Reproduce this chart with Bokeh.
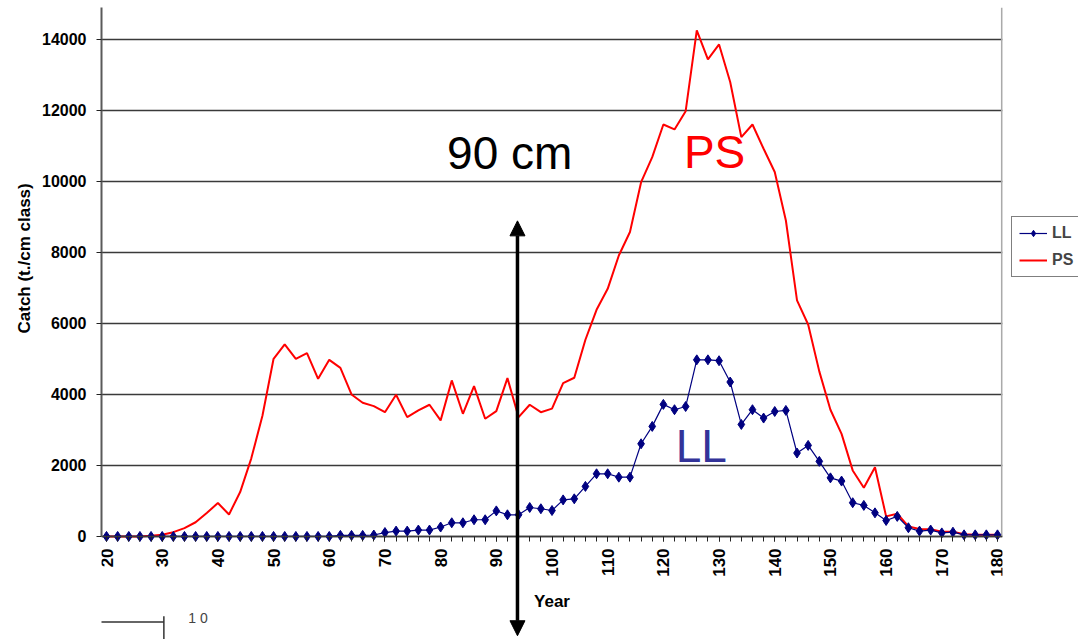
import math
from bokeh.plotting import figure
from bokeh.models import (Range1d, FixedTicker, Legend, LegendItem, Arrow,
                          NormalHead, Label, Title)
from bokeh.embed import file_html
from bokeh.resources import INLINE

# ---- data (cm class, catch t./cm class) ----
sizes = list(range(20, 181, 2))
ll_catch = [0, 0, 0, 0, 0, 0, 0, 0, 0, 0,
            0, 0, 0, 0, 0, 0, 0, 0, 0, 0,
            0, 30, 30, 30, 40, 110, 150, 150, 180, 180,
            265, 385, 385, 470, 470, 720, 610, 610, 815, 780,
            730, 1030, 1060, 1410, 1765, 1765, 1670, 1670, 2610, 3100,
            3720, 3570, 3660, 4975, 4975, 4950, 4350, 3155, 3570, 3335,
            3520, 3550, 2350, 2565, 2115, 1650, 1560, 950, 875, 665,
            450, 565, 245, 150, 180, 100, 120, 45, 45, 45,
            45]
ps_catch = [0, 0, 0, 0, 20, 50, 120, 235, 400, 660,
            940, 620, 1250, 2200, 3400, 5005, 5410, 5005, 5165, 4440,
            4975, 4750, 4000, 3765, 3670, 3500, 3990, 3360, 3550, 3710,
            3270, 4395, 3455, 4235, 3315, 3530, 4460, 3360, 3710, 3500,
            3600, 4320, 4470, 5540, 6385, 6975, 7915, 8575, 9980, 10685,
            11605, 11465, 11980, 14255, 13440, 13860, 12800, 11250, 11605, 10920,
            10265, 8900, 6650, 5970, 4650, 3570, 2890, 1860, 1370, 1950,
            565, 640, 280, 210, 200, 130, 130, 60, 50, 50,
            50]
x_ticks = list(range(20, 181, 10))
y_ticks = list(range(0, 14001, 2000))
series_names = ["LL", "PS"]
marker_cm = 93.8
marker_text = "90 cm"
y_title = "Catch (t./cm class)"
x_title = "Year"

FONT = "Liberation Sans"
Y_TOP = 14900
Y_BOTTOM = -2903   # frame reaches down to the bottom of the page

p = figure(output_backend="svg", toolbar_location=None,
           x_range=Range1d(19.1, 180.9), y_range=Range1d(Y_BOTTOM, Y_TOP),
           min_border_left=101, min_border_right=76, min_border_top=7,
           min_border_bottom=0)
p.frame_width = 901
p.frame_height = 632
p.outline_line_color = None
p.background_fill_color = "white"
p.border_fill_color = "white"

# grid
p.xgrid.visible = False
p.ygrid.ticker = y_ticks
p.ygrid.grid_line_color = "#3a3a3a"
p.ygrid.grid_line_width = 1.4

# axes
p.xaxis.ticker = FixedTicker(ticks=x_ticks, minor_ticks=sizes)
p.yaxis.ticker = FixedTicker(ticks=y_ticks, minor_ticks=[])
p.xaxis.fixed_location = 0
p.yaxis.bounds = (0, Y_TOP)
for ax in (p.xaxis[0], p.yaxis[0]):
    ax.major_label_text_font = FONT
    ax.major_label_text_font_style = "bold"
    ax.major_label_text_color = "black"
    ax.axis_label_text_font = FONT
    ax.axis_label_text_font_style = "bold"
    ax.axis_label_text_color = "black"
    ax.major_tick_in = 0
    ax.major_tick_out = 5
    ax.minor_tick_in = 0
    ax.minor_tick_out = 5
    ax.major_tick_line_color = "#222222"
    ax.minor_tick_line_color = "#222222"
    ax.major_label_standoff = 10
p.xaxis.major_label_standoff = 7
p.yaxis.axis_line_color = "#5a5a5a"
p.yaxis.axis_line_width = 2
p.xaxis.axis_line_color = "#3a3a3a"
p.xaxis.axis_line_width = 1.4
p.yaxis.major_label_text_font_size = "16px"
p.xaxis.major_label_text_font_size = "17px"
p.xaxis.major_label_orientation = math.pi / 2
p.xaxis.axis_label = x_title
p.xaxis.axis_label_text_font_size = "17px"
p.xaxis.axis_label_standoff = 12

# y title, level with the plot area (not the extended frame)
p.add_layout(Title(text=y_title, align="left", offset=306,
                   text_font=FONT, text_font_style="bold",
                   text_font_size="17px", text_color="black",
                   standoff=12), "left")

# right border of the plot area
p.segment(x0=[180.8], y0=[0], x1=[180.8], y1=[Y_TOP], line_color="#aaaaaa",
          line_width=2)

# series
ps_line = p.line(sizes, ps_catch, line_color="#ff0000", line_width=2)
ll_line = p.line(sizes, ll_catch, line_color="#000080", line_width=1.2)
ll_pts = p.scatter(sizes, ll_catch, marker="diamond", size=10,
                   fill_color="#000080", line_color="#000080")

legend = Legend(items=[LegendItem(label=series_names[0], renderers=[ll_line, ll_pts]),
                       LegendItem(label=series_names[1], renderers=[ps_line])],
                location=(9, 362))
legend.label_text_font = FONT
legend.label_text_font_style = "bold"
legend.label_text_font_size = "16px"
legend.glyph_width = 28
legend.glyph_height = 16
legend.label_standoff = 5
legend.spacing = 9
legend.padding = 7
legend.margin = 0
legend.border_line_color = "black"
legend.border_line_width = 1
legend.background_fill_alpha = 1
p.add_layout(legend, "right")

# double-headed arrow at the size marker
p.add_layout(Arrow(x_start=marker_cm, y_start=-2797, x_end=marker_cm, y_end=8890,
                   line_color="black", line_width=3.5,
                   start=NormalHead(size=15, fill_color="black", line_color="black"),
                   end=NormalHead(size=15, fill_color="black", line_color="black")))

p.add_layout(Label(x=92.4, y=10810, text=marker_text, text_font=FONT,
                   text_font_size="46px", text_color="black",
                   text_align="center", text_baseline="alphabetic"))
p.add_layout(Label(x=129.2, y=10840, text=series_names[1], text_font=FONT,
                   text_font_size="46px", text_color="#ff0000",
                   text_align="center", text_baseline="alphabetic"))
p.add_layout(Label(x=126.8, y=2540, text=series_names[0], text_font=FONT,
                   text_font_size="46px", text_color="#333399",
                   text_align="center", text_baseline="alphabetic"))

# stray fragment in bottom-left corner
p.add_layout(Arrow(x_start=1.0, y_start=-2410, x_end=30.3, y_end=-2410,
                   line_color="#333333", line_width=1.5, end=None))
p.add_layout(Arrow(x_start=30.3, y_start=-2250, x_end=30.3, y_end=-3000,
                   line_color="#333333", line_width=1.5, end=None))
p.add_layout(Label(x=34.7, y=-2285, text="1 0", text_font=FONT,
                   text_font_size="14px", text_color="#444444",
                   text_align="left", text_baseline="alphabetic"))

open("out.html", "w").write(file_html(p, INLINE))
